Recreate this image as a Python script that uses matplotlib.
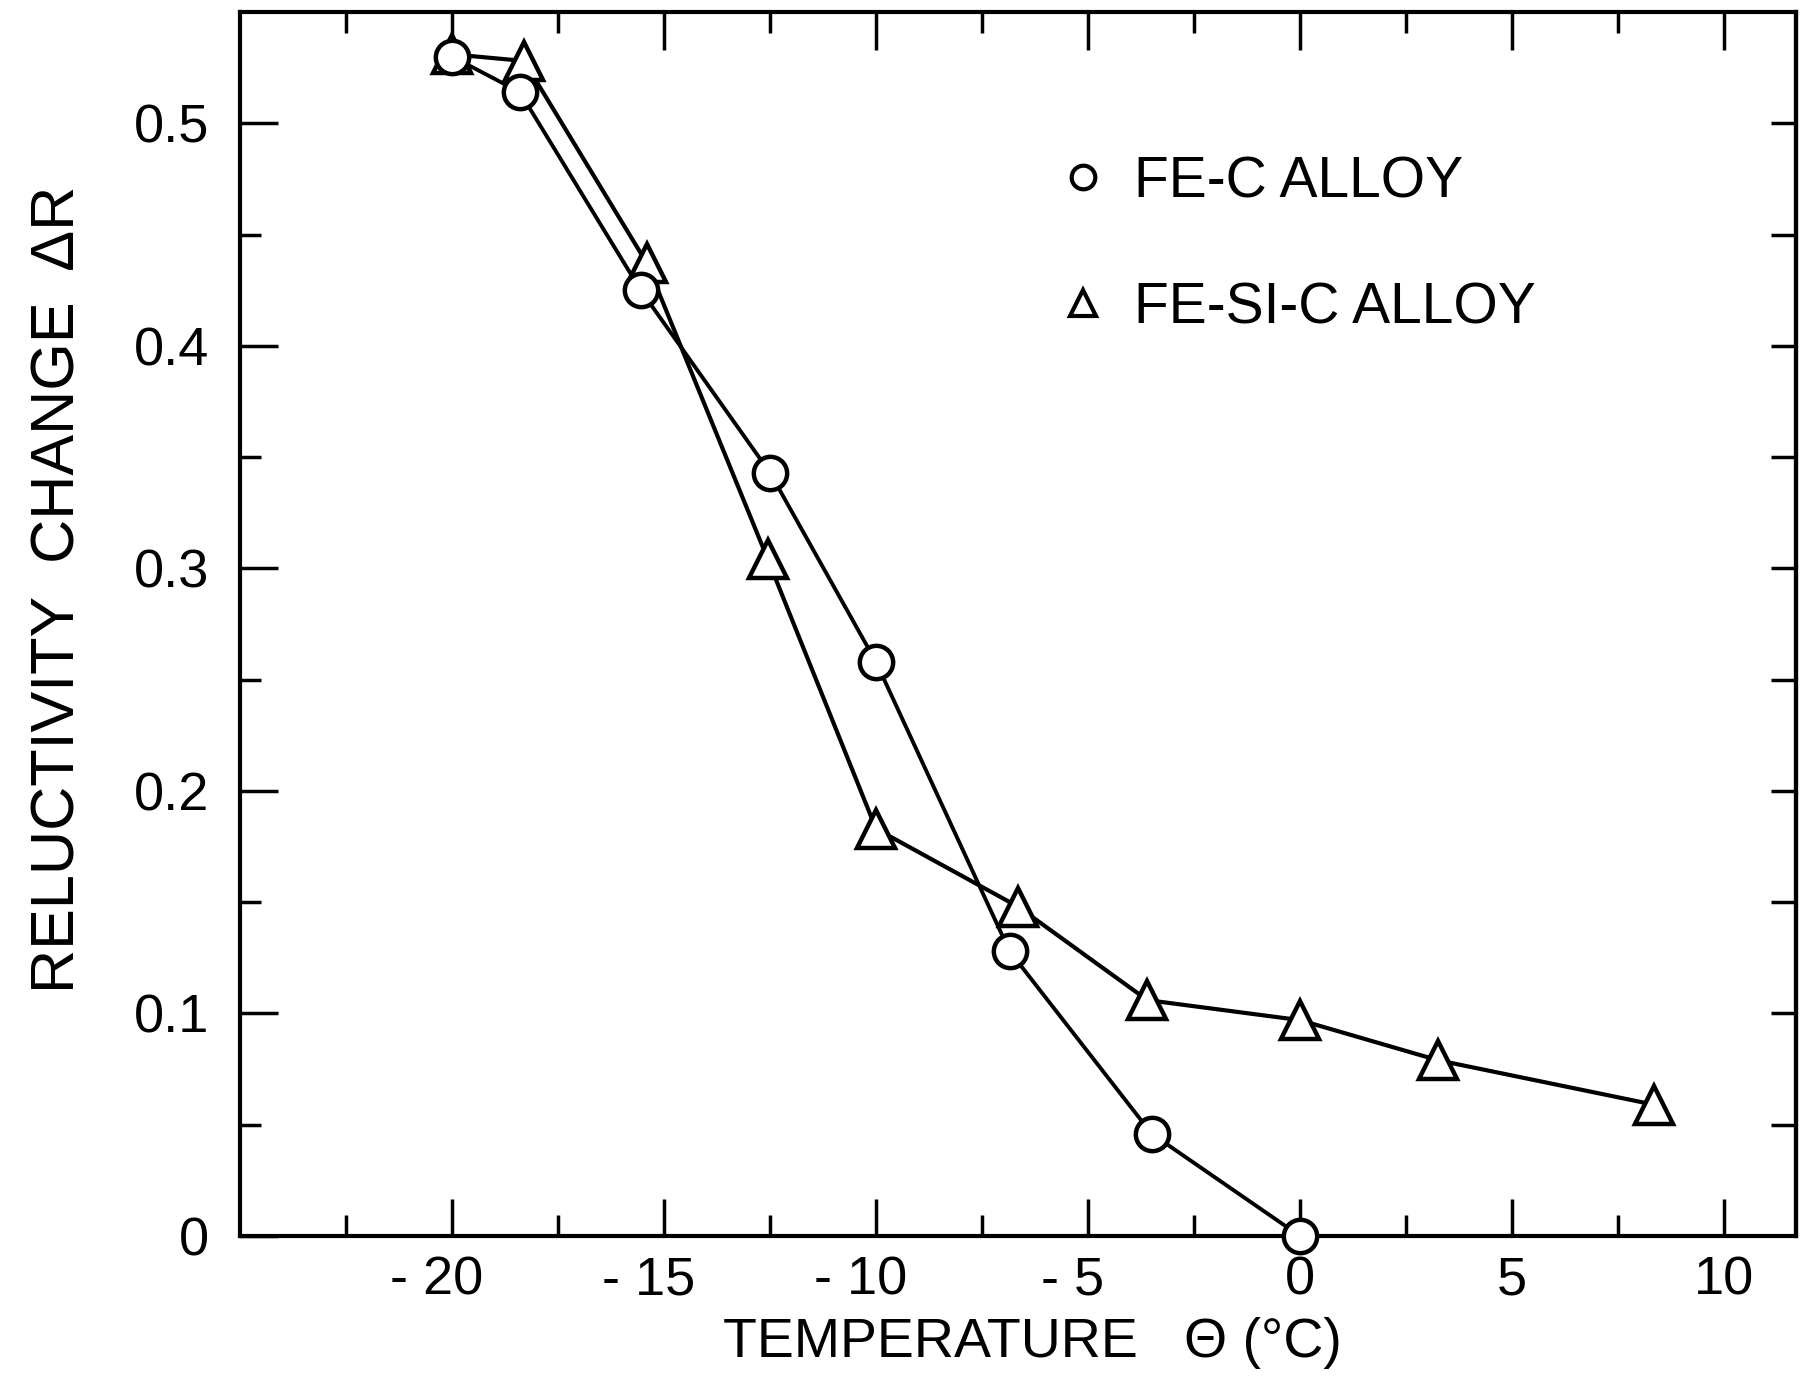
import numpy as np
import matplotlib
matplotlib.use("Agg")
import matplotlib.pyplot as plt
from matplotlib.lines import Line2D

# values
fe_c_temp = [-20, -18.4, -15.55, -12.5, -10, -6.85, -3.5, 0]
fe_c_dr = [0.530, 0.514, 0.425, 0.343, 0.258, 0.128, 0.046, 0.0]

fe_si_c_temp = [-20, -18.3, -15.4, -12.55, -10, -6.65, -3.6, 0, 3.25, 8.35]
fe_si_c_dr = [0.531, 0.528, 0.437, 0.304, 0.183, 0.148, 0.106, 0.097, 0.079, 0.059]

x_ticks = [-20, -15, -10, -5, 0, 5, 10]
x_labels = ['- 20  ', '- 15  ', '- 10  ', '- 5  ', '0', '5', '10']
y_ticks = [0, 0.1, 0.2, 0.3, 0.4, 0.5]
y_labels = ['0', '0.1', '0.2', '0.3', '0.4', '0.5']

plt.rcParams['font.family'] = ['Liberation Sans', 'DejaVu Sans']

fig = plt.figure(figsize=(18.06, 13.78), dpi=100)
ax = fig.add_axes([240 / 1806, 1 - 1236 / 1378, 1556 / 1806, 1224 / 1378])

ax.plot(fe_si_c_temp, fe_si_c_dr, color='black', lw=3, marker='^', ms=27,
        mfc='white', mec='black', mew=3.2, clip_on=False, zorder=3)
ax.plot(fe_c_temp, fe_c_dr, color='black', lw=2.8, marker='o', ms=24,
        mfc='white', mec='black', mew=3.2, clip_on=False, zorder=4)

ax.set_xlim(-25, 11.7)
ax.set_ylim(0, 0.55)

ax.set_xticks(x_ticks, x_labels)
ax.set_xticks(np.arange(-22.5, 11, 5), minor=True)
ax.set_yticks(y_ticks, y_labels)
ax.set_yticks(np.arange(0.05, 0.55, 0.1), minor=True)

ax.tick_params(which='major', direction='in', length=27, width=2.5,
               top=True, right=False, labelsize=39, color='black')
ax.tick_params(axis='x', which='major', pad=14)
ax.tick_params(axis='y', which='major', pad=22)
ax.tick_params(which='minor', direction='in', length=15, width=2.5,
               top=True, right=False)

# short ticks on the right side every 0.05
sec = ax.secondary_yaxis('right')
sec.set_yticks(np.arange(0.05, 0.55, 0.05))
sec.tick_params(direction='in', length=18, width=2.5, labelright=False)
sec.spines['right'].set_linewidth(3)

for s in ax.spines.values():
    s.set_linewidth(3)

ax.set_xlabel('TEMPERATURE   \u0398 (\u00b0C)', fontsize=40)
ax.xaxis.set_label_coords(0.509, -0.066)
ax.xaxis.label.set_va('top')
ax.set_ylabel('RELUCTIVITY  CHANGE  \u0394R', fontsize=44)
ax.yaxis.set_label_coords(-0.098, 0.528)

handles = [
    Line2D([], [], ls='none', marker='o', ms=17, mfc='white', mec='black', mew=3),
    Line2D([], [], ls='none', marker='^', ms=19, mfc='white', mec='black', mew=3),
]
ax.legend(handles, ['FE-C ALLOY', 'FE-SI-C ALLOY'], loc='upper left',
          bbox_to_anchor=(0.494, 0.925), frameon=False, fontsize=41,
          handlelength=0.8, handletextpad=0.5, labelspacing=1.27)

plt.savefig('out.png', dpi=100)
